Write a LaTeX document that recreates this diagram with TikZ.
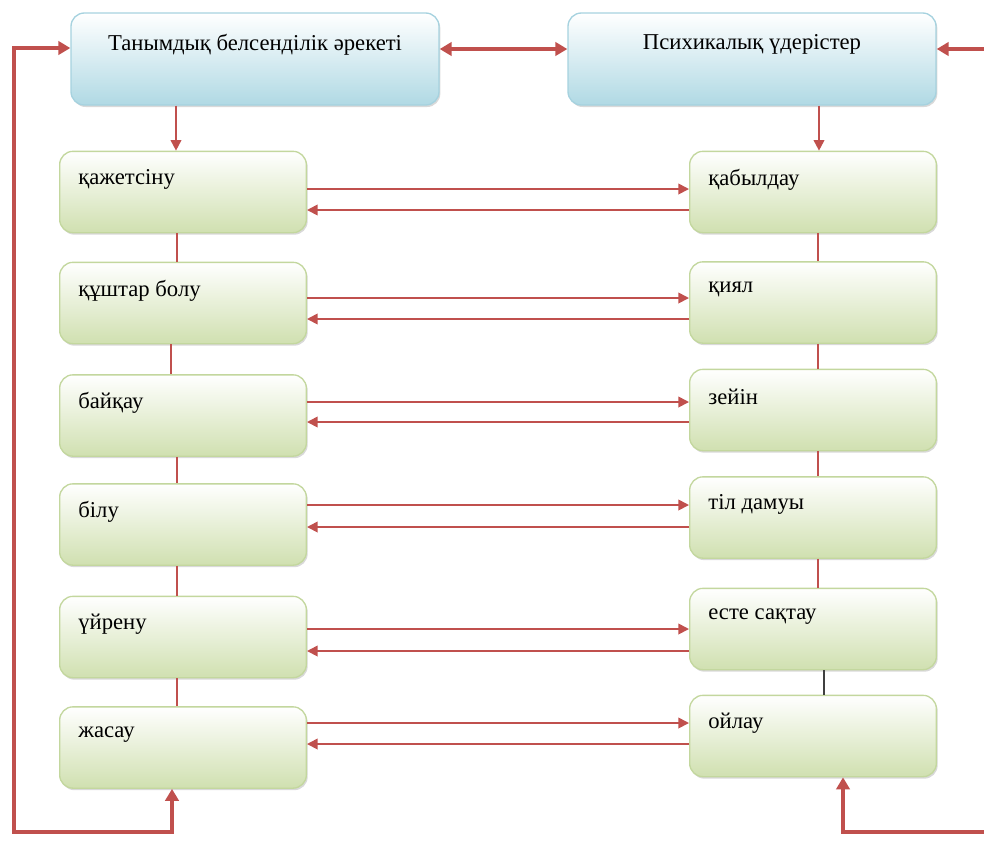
\documentclass[tikz,border=0pt]{standalone}
\usepackage{fontspec}
\setmainfont{Liberation Serif}
\usetikzlibrary{arrows.meta,shadows}

\definecolor{arrred}{HTML}{C0504D}
\definecolor{grnfill}{HTML}{D0E0B0}
\definecolor{grnline}{HTML}{C3D79E}
\definecolor{bluefill}{HTML}{B0D9E4}
\definecolor{blueline}{HTML}{A6D2DF}

\begin{document}
\begin{tikzpicture}[x=0.75pt,y=-0.75pt, every node/.style={font=\fontsize{17}{20}\selectfont}]
    \tikzstyle{box}=[rounded corners=10pt, line width=1pt, inner sep=0pt,
        drop shadow={shadow xshift=1pt, shadow yshift=-1.5pt, opacity=0.3}]
    \tikzstyle{gbox}=[box, draw=grnline, top color=white, bottom color=grnfill,
        minimum width=185pt, minimum height=61pt]
    \tikzstyle{bbox}=[box, draw=blueline, top color=white, bottom color=bluefill,
        minimum width=276pt, minimum height=69pt]
    \tikzstyle{lbl}=[anchor=west, xshift=11pt, yshift=-21.5pt]
    \tikzstyle{tarr}=[arrred, line width=1.3pt, -{Triangle[length=8pt,width=8pt]}]
    \tikzstyle{tln}=[arrred, line width=1.3pt]
    \tikzstyle{marrs}=[arrred, line width=3pt, -{Triangle[length=9pt,width=10pt]}]

    \useasboundingbox (0,0) rectangle (984,840);

    % top boxes
    \node[bbox, label={[anchor=center, yshift=-24pt]north:Танымдық белсенділік әрекеті}] (tl) at (255,59) {};
    \node[bbox, label={[anchor=center, yshift=-24pt]north:Психикалық үдерістер}] (tr) at (752,59) {};

    % left column
    \foreach \n/\y/\t in {1/192/қажетсіну, 2/303/құштар болу, 3/415.5/байқау,
                          4/524.5/білу, 5/637/үйрену, 6/747.5/жасау} {
        \node[gbox, label={[lbl]north west:\t}] (l\n) at (183,\y) {};
    }

    % right column
    \foreach \n/\y/\t in {1/192/қабылдау, 2/302.5/қиял, 3/410/зейін,
                          4/517.5/тіл дамуы, 5/629/есте сақтау, 6/736/ойлау} {
        \node[gbox, label={[lbl]north west:\t}] (r\n) at (813,\y) {};
    }

    % links between the columns
    \foreach \n/\a/\b in {1/189/210, 2/298/319, 3/402/422, 4/505/527, 5/629/651, 6/723/744} {
        \draw[tarr] (l\n.east |- 0,\a) -- (r\n.west |- 0,\a);
        \draw[tarr] (r\n.west |- 0,\b) -- (l\n.east |- 0,\b);
    }

    % vertical links
    \draw[tarr] (tl.south -| 176,0) -- (l1.north -| 176,0);
    \draw[tarr] (tr.south -| 819,0) -- (r1.north -| 819,0);
    \draw[tln] (l1.south -| 177,0) -- (l2.north -| 177,0);
    \draw[tln] (l2.south -| 171,0) -- (l3.north -| 171,0);
    \foreach \n/\m in {3/4, 4/5, 5/6} {
        \draw[tln] (l\n.south -| 177,0) -- (l\m.north -| 177,0);
    }
    \foreach \n/\m in {1/2, 2/3, 3/4, 4/5} {
        \draw[tln] (r\n.south -| 818,0) -- (r\m.north -| 818,0);
    }
    \draw[black!75, line width=1.3pt] (r5.south -| 824,0) -- (r6.north -| 824,0);

    % thick loops
    \draw[marrs, {Triangle[length=9pt,width=10pt]}-{Triangle[length=9pt,width=10pt]}] (tl.east |- 0,49) -- (tr.west |- 0,49);
    \coordinate (ltop) at (14,48);
    \coordinate (lbot) at (14,832);
    \draw[marrs, {Triangle[length=9pt,width=10pt]}-{Triangle[length=9pt,width=10pt]}]
        (tl.west |- ltop) -- (ltop) -- (lbot) -- (lbot -| 172,0) -- (l6.south -| 172,0);
    \coordinate (rtop) at (984,49);
    \coordinate (rbot) at (984,832);
    \draw[marrs] (rtop) -- (tr.east |- rtop);
    \draw[marrs] (rbot) -- (rbot -| 843,0) -- (r6.south -| 843,0);

\end{tikzpicture}
\end{document}
